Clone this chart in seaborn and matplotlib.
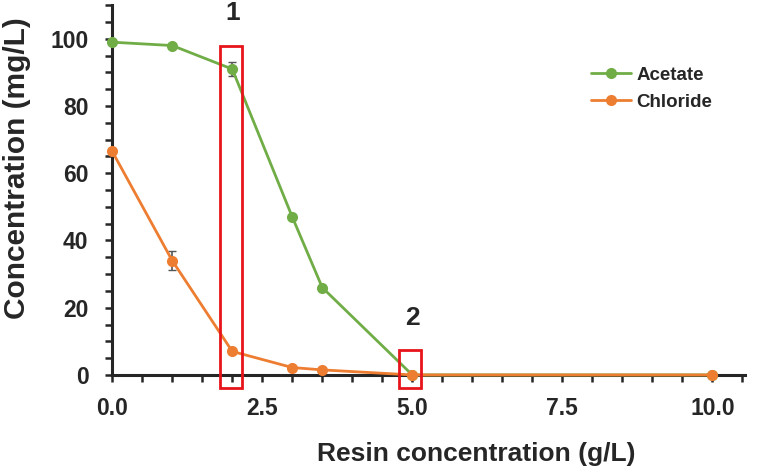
import matplotlib.pyplot as plt
import pandas as pd
import seaborn as sns
from matplotlib.patches import Rectangle
from matplotlib.ticker import MultipleLocator

resin = [0, 1, 2, 3, 3.5, 5, 10]
acetate = [99, 98, 91, 47, 26, 0, 0]
chloride = [66.5, 34, 7, 2.2, 1.5, 0, 0]

# error bars only reported on two points
acetate_err_x, acetate_err_y, acetate_err = [2], [91], [2.2]
chloride_err_x, chloride_err_y, chloride_err = [1], [34], [2.8]

COLORS = {"Acetate": "#70ad47", "Chloride": "#ed7d31"}

df = pd.concat([
    pd.DataFrame({"resin": resin, "conc": acetate, "ion": "Acetate"}),
    pd.DataFrame({"resin": resin, "conc": chloride, "ion": "Chloride"}),
])

sns.set_style("ticks")
plt.rcParams["font.family"] = ["Liberation Sans", "DejaVu Sans"]
plt.rcParams["font.weight"] = "bold"

fig = plt.figure(figsize=(7.74, 4.74), dpi=100)
ax = fig.add_axes([0.145, 0.209, 0.818, 0.78])

sns.lineplot(data=df, x="resin", y="conc", hue="ion", palette=COLORS,
             marker="o", markersize=8, markeredgewidth=0, linewidth=2,
             ax=ax, zorder=3, clip_on=False)

ax.errorbar(acetate_err_x, acetate_err_y, yerr=acetate_err, fmt="none",
            ecolor="#555555", elinewidth=1.2, capsize=3, zorder=2)
ax.errorbar(chloride_err_x, chloride_err_y, yerr=chloride_err, fmt="none",
            ecolor="#555555", elinewidth=1.2, capsize=3, zorder=2)

# highlighted regions
ax.add_patch(Rectangle((1.8, -3.9), 0.37, 101.9, fill=False,
                       edgecolor="#e8141b", linewidth=2, zorder=4, clip_on=False))
ax.add_patch(Rectangle((4.78, -3.9), 0.37, 11.4, fill=False,
                       edgecolor="#e8141b", linewidth=2, zorder=4, clip_on=False))
ax.text(2.0, 104, "1", ha="center", va="bottom", fontsize=19, fontweight="bold")
ax.text(5.0, 13.5, "2", ha="center", va="bottom", fontsize=19, fontweight="bold")

ax.set_xlim(0, 10.55)
ax.set_ylim(0, 110)
ax.xaxis.set_minor_locator(MultipleLocator(0.5))
ax.yaxis.set_major_locator(MultipleLocator(20))
ax.yaxis.set_minor_locator(MultipleLocator(5))
ax.set_xticks([0, 2.5, 5, 7.5, 10])
ax.set_xticklabels(["0.0", "2.5", "5.0", "7.5", "10.0"])
ax.tick_params(which="both", direction="out", length=5, width=1.8, labelsize=16.5)
ax.tick_params(axis="x", pad=11)
ax.tick_params(axis="y", pad=12)
for lbl in ax.get_xticklabels() + ax.get_yticklabels():
    lbl.set_fontweight("bold")

sns.despine(ax=ax)
ax.spines["left"].set_linewidth(2.2)
ax.spines["bottom"].set_linewidth(2.2)

ax.set_xlabel("Resin concentration (g/L)", fontsize=19, fontweight="bold")
ax.set_ylabel("Concentration (mg/L)", fontsize=21.5, fontweight="bold")
ax.xaxis.set_label_coords(0.575, -0.215)
ax.xaxis.label.set_va("center")
ax.yaxis.set_label_coords(-0.150, 0.56)
ax.yaxis.label.set_va("center")

leg = ax.legend(loc="upper left", bbox_to_anchor=(0.73, 0.88), frameon=False,
                fontsize=13.5, handlelength=2.1, handletextpad=0.3,
                labelspacing=0.55, title=None)
for t in leg.get_texts():
    t.set_fontweight("bold")

fig.savefig("out.png", dpi=100)
plt.close(fig)
